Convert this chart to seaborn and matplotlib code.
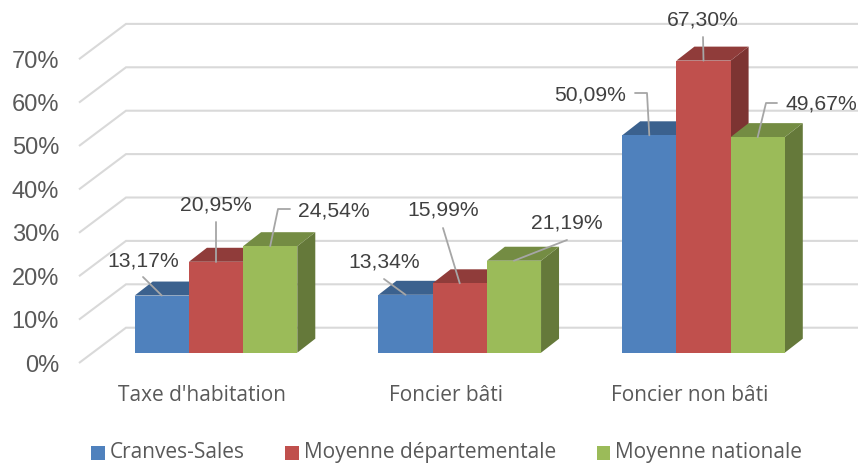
import matplotlib
matplotlib.use("Agg")
import matplotlib.pyplot as plt
import seaborn as sns
import pandas as pd
import numpy as np
from matplotlib.patches import Polygon
from matplotlib.transforms import Affine2D, IdentityTransform

# ---------- data ----------
categories = ["Taxe d'habitation", "Foncier bâti", "Foncier non bâti"]
series_names = ["Cranves-Sales", "Moyenne départementale", "Moyenne nationale"]
cranves = [13.17, 13.34, 50.09]
departement = [20.95, 15.99, 67.30]
national = [24.54, 21.19, 49.67]
y_ticks = [0, 10, 20, 30, 40, 50, 60, 70]

# ---------- style ----------
W, H = 858, 463
colors = ["#4F81BD", "#C0504D", "#9BBB59"]
top_colors = ["#3B618E", "#903C3A", "#748C43"]
side_colors = ["#335479", "#7D3432", "#65793A"]
PX_Y = 4.34            # pixels per percent
PX_X = 243.75          # pixels per category
BASE_PX, ZERO_X_PX = 352.7, 216.0
AX_L, AX_B = 79, 363
DX, DY = 18 / PX_X, 14 / PX_Y          # bar depth
WALL_X = 47 / PX_X                     # wall depth
WALL_BACK = (BASE_PX - 327.7) / PX_Y   # 0 % on back wall
WALL_FRONT = (BASE_PX - AX_B) / PX_Y   # 0 % on front edge
XLABEL_SHIFT = 14 / PX_X               # category labels sit left of the bars

sns.set_theme(style="white")
plt.rcParams["font.family"] = ["Liberation Sans", "DejaVu Sans"]

df = pd.DataFrame({
    "cat": categories * 3,
    "serie": np.repeat(series_names, 3),
    "val": cranves + departement + national,
})

fig = plt.figure(figsize=(W / 100, H / 100), dpi=100, facecolor="white")
ax = fig.add_axes([AX_L / W, (H - AX_B) / H, (W - AX_L) / W, AX_B / H])
ax.patch.set_alpha(0)
sns.barplot(data=df, x="cat", y="val", hue="serie", hue_order=series_names,
            order=categories, palette=colors, width=0.667, gap=0, dodge=True,
            linewidth=0, errorbar=None, saturation=1, ax=ax, legend=False)

xlim = ((AX_L - ZERO_X_PX) / PX_X, (W - ZERO_X_PX) / PX_X)
ylim = (WALL_FRONT, BASE_PX / PX_Y)
ax.set_xlim(xlim)
ax.set_ylim(ylim)

# gridlines on the 3-D walls
for v in y_ticks:
    ax.plot([xlim[0], xlim[0] + WALL_X, xlim[1]],
            [v + WALL_FRONT, v + WALL_BACK, v + WALL_BACK],
            color="#D9D9D9", lw=1.5, zorder=1, solid_capstyle="butt",
            solid_joinstyle="miter", clip_on=False)

# depth faces, derived from the seaborn bars
anchors = {}
for i, cont in enumerate(ax.containers):
    for j, bar in enumerate(cont.patches):
        x0, x1, h = bar.get_x(), bar.get_x() + bar.get_width(), bar.get_height()
        z = 2 + j * 10 + i * 3
        ax.add_patch(Polygon([(x1, 0), (x1, h), (x1 + DX, h + DY), (x1 + DX, DY)],
                             closed=True, fc=side_colors[i], ec="none", zorder=z))
        ax.add_patch(Polygon([(x0, h), (x1, h), (x1 + DX, h + DY), (x0 + DX, h + DY)],
                             closed=True, fc=top_colors[i], ec="none", zorder=z + 1))
        bar.set_zorder(z + 2)
        anchors[(i, j)] = ((x0 + x1) / 2, h)

# axes
ax.set_xlabel("")
ax.set_ylabel("")
ax.set_xticks([k - XLABEL_SHIFT for k in range(len(categories))])
ax.set_xticklabels(categories, fontfamily="Open Sans", fontsize=15, color="#595959")
ax.set_yticks([v + WALL_FRONT for v in y_ticks])
ax.set_yticklabels([f"{v}%" for v in y_ticks], fontsize=17, color="#595959")
ax.tick_params(axis="y", length=0, pad=14.4)
ax.tick_params(axis="x", length=0, pad=16)
sns.despine(ax=ax, left=True, bottom=True)

# data labels with leader lines (pixel layout, top-left origin)
pix = Affine2D().scale(1, -1).translate(0, H)
label_layout = {
    (0, 0): ((143, 261), [(143, 277)]),
    (1, 0): ((216, 205), [(216, 222)]),
    (2, 0): ((334, 211), [(290, 209), (278, 209)]),
    (0, 1): ((384, 262), [(384, 279)]),
    (1, 1): ((443, 210), [(443, 228)]),
    (2, 1): ((567, 223), [(567, 240)]),
    (0, 2): ((590, 95), [(635, 93), (647, 93)]),
    (1, 2): ((703, 20), [(703, 37)]),
    (2, 2): ((821, 104), [(777, 103), (766, 103)]),
}
fig.canvas.draw()
for (i, j), (txt_pos, leader) in label_layout.items():
    x_d, y_d = ax.transData.transform(anchors[(i, j)])
    pts = [pix.transform(p) for p in leader] + [(x_d, y_d)]
    xs, ys = zip(*pts)
    fig.add_artist(plt.Line2D(xs, ys, color="#A6A6A6", lw=1.3,
                              transform=IdentityTransform(), zorder=50))
    val = [cranves, departement, national][i][j]
    fig.text(txt_pos[0], txt_pos[1], f"{val:.2f}%".replace(".", ","), transform=pix,
             ha="center", va="center", fontsize=15.2, color="#404040", zorder=51)

# legend
handles = [plt.Rectangle((0, 0), 1, 1, fc=c, ec="none") for c in colors]
leg = fig.legend(handles, series_names, loc="center", bbox_to_anchor=(446.5, 452.5),
                 bbox_transform=pix, ncol=3, frameon=False, handlelength=0.67,
                 handleheight=0.67, handletextpad=0.22, columnspacing=1.95,
                 borderpad=0, borderaxespad=0,
                 prop={"family": "Open Sans", "size": 15}, labelcolor="#595959")
for p in leg.get_patches():
    p.set_y(p.get_y() - 1.8)   # swatches sit a little lower than the text box

fig.savefig("out.png", dpi=100, facecolor="white")
